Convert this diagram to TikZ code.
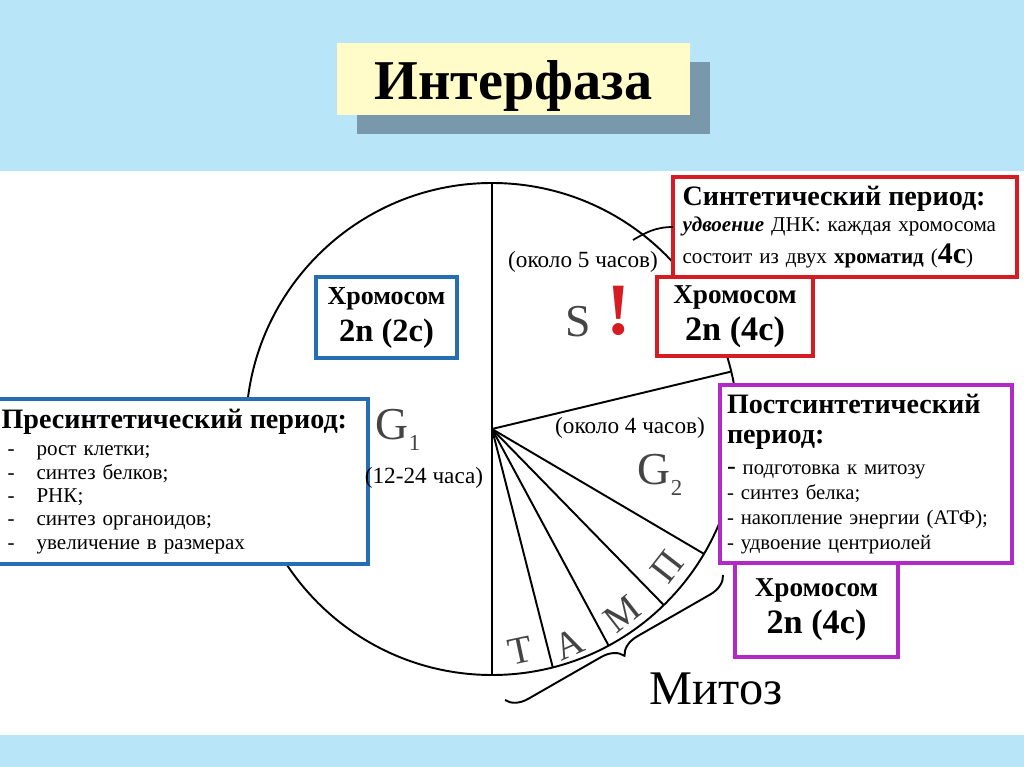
\documentclass[tikz,border=0pt]{standalone}
\usepackage{fontspec}
\setmainfont{Liberation Serif}
\usepackage{xcolor}
\usepackage{tikz}
\usetikzlibrary{positioning, calc, shadows, decorations.pathreplacing}

\definecolor{bandblue}{RGB}{184,230,248}
\definecolor{titleyellow}{RGB}{255,252,201}
\definecolor{shadowgray}{RGB}{122,152,172}
\definecolor{redc}{RGB}{212,28,34}
\definecolor{bluec}{RGB}{38,110,178}
\definecolor{purplec}{RGB}{178,42,198}
\definecolor{phasegray}{RGB}{68,68,68}

\newcommand{\gsub}[2]{#1\raisebox{-0.55ex}{\fontsize{13}{13}\selectfont #2}}
\newcommand{\listdash}[1]{\makebox[0.7cm][l]{\hspace{0.12cm}-}#1}

\begin{document}
\begin{tikzpicture}[x=0.02cm, y=-0.02cm,
  box/.style={draw, line width=2.2pt, outer sep=0pt, fill=white},
  redbox/.style={box, draw=redc},
  bluebox/.style={box, draw=bluec},
  purplebox/.style={box, draw=purplec},
  chrom/.style={align=center, inner sep=0pt, font=\fontsize{15.5}{21}\selectfont\bfseries},
  hrs/.style={font=\fontsize{13.2}{14}\selectfont},
  phase/.style={inner sep=0pt, text=phasegray, font=\fontsize{22}{22}\selectfont},
  ray/.style={line width=1.1pt},
  titlebox/.style={fill=titleyellow, minimum width=7.06cm, minimum height=1.44cm,
                   text height=0.9cm, text depth=0.06cm,
                   font=\fontsize{32}{32}\selectfont\bfseries,
                   drop shadow={shadow xshift=0.4cm, shadow yshift=-0.38cm, fill=shadowgray, opacity=1}}
]
\useasboundingbox (0,0) rectangle (1024,767);
\fill[white] (0,0) rectangle (1024,767);
\fill[bandblue] (0,0) rectangle (1024,171);
\fill[bandblue] (0,735) rectangle (1024,767);
\node[titlebox] (title) at (513.5,79) {Интерфаза};

\coordinate (ctr) at (492,429);
\draw[ray] (ctr) circle (246);
\draw[ray] (ctr) ++(0,-246) -- ++(0,492);
\draw[ray] (ctr) -- ++(-13.5:246);
\draw[ray] (ctr) -- ++(30.5:246);
\draw[ray] (ctr) -- ++(45.7:246);
\draw[ray] (ctr) -- ++(61.7:246);
\draw[ray] (ctr) -- ++(75.7:246);

\node[redbox, minimum width=6.88cm, minimum height=2cm, text width=6.5cm, inner xsep=0.19cm,
      align=left, font=\fontsize{12}{15}\selectfont] (sint) at (845,227)
  {{\fontsize{16}{19}\selectfont\bfseries Синтетический период:}\\
   \textbf{\textit{удвоение}} ДНК: каждая хромосома\\[3pt]
   состоит из двух \textbf{хроматид} ({\fontsize{17}{15}\selectfont\bfseries 4c})};
\node[redbox, chrom, minimum width=3.12cm, minimum height=1.58cm, anchor=north west] (redchr)
  at ([xshift=-0.32cm]sint.south west) {Хромосом\\{\fontsize{19.5}{21}\selectfont 2n (4c)}};
\node[bluebox, chrom, minimum width=2.82cm, minimum height=1.62cm,
      font=\fontsize{14.8}{21}\selectfont\bfseries] (bluechr) at (386.5,317.5)
  {Хромосом\\{\fontsize{18.5}{21}\selectfont 2n (2c)}};
\node[bluebox, minimum width=7.46cm, minimum height=3.3cm, text width=7.2cm, inner xsep=0.13cm,
      align=left, font=\fontsize{12}{13.3}\selectfont] (presint) at (181.5,481.5)
  {{\fontsize{16}{19}\selectfont\bfseries Пресинтетический период:}\\[2.3pt]
   \listdash{рост клетки;}\\
   \listdash{синтез белков;}\\
   \listdash{РНК;}\\
   \listdash{синтез органоидов;}\\
   \listdash{увеличение в размерах}};
\node[purplebox, minimum width=5.84cm, minimum height=3.56cm, text width=5.56cm, inner xsep=0.14cm,
      align=left, font=\fontsize{11.8}{14.2}\selectfont] (post) at (866,474)
  {{\fontsize{16}{18.5}\selectfont\bfseries Постсинтетический\\[2.7pt] период:}\\[3.3pt]
   {\fontsize{15}{14}\selectfont -} подготовка к митозу\\
   - синтез белка;\\
   - накопление энергии (АТФ);\\
   - удвоение центриолей};
\node[purplebox, chrom, minimum width=3.26cm, minimum height=1.88cm, anchor=north west] (purchr)
  at ([xshift=0.3cm]post.south west) {Хромосом\\{\fontsize{19.5}{21}\selectfont 2n (4c)}};

\coordinate (sptr) at (633,240);
\draw[line width=1pt] (sint.west) .. controls (655,227) and (645,233) .. (sptr);

\node[hrs] (hfive) at (583,262) {(около 5 часов)};
\node[hrs] (hfour) at (630,428) {(около 4 часов)};
\node[hrs] (hone) at (424,478) {(12-24 часа)};
\node[phase, font=\fontsize{26}{26}\selectfont] (sph) at (578,322) {S};
\node[text=redc, font=\fontsize{42}{42}\selectfont\bfseries] (excl) at (619,311) {!};
\node[phase, font=\fontsize{26}{26}\selectfont] (gone) at (398,430) {\gsub{G}{1}};
\node[phase, font=\fontsize{26}{26}\selectfont] (gtwo) at (660,475) {\gsub{G}{2}};
\node[phase, rotate=12] (tel) at ($(ctr)+(82.8:223)$) {Т};
\node[phase, rotate=24] (ana) at ($(ctr)+(70.3:229)$) {А};
\node[phase, rotate=38] (met) at ($(ctr)+(54.8:226)$) {М};
\node[phase, rotate=52] (pro) at ($(ctr)+(38.1:223)$) {П};

\coordinate (mitL) at (505,700);
\coordinate (mitR) at (723,575);
\draw[ray, decorate, decoration={brace, amplitude=12pt}] (mitR) -- (mitL);
\node[font=\fontsize{27.5}{28}\selectfont] (mit) at (716,689) {Митоз};
\end{tikzpicture}
\end{document}
